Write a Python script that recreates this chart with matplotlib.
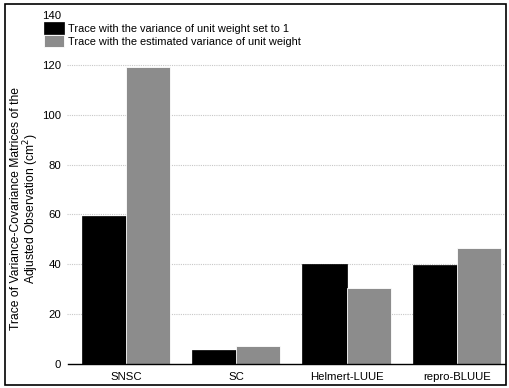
import numpy as np
import matplotlib.pyplot as plt
import matplotlib.transforms as mtransforms
from matplotlib.patches import Rectangle

plt.rcParams['font.family'] = ['Liberation Sans', 'DejaVu Sans']

methods = ["SNSC", "SC", "Helmert-LUUE", "repro-BLUUE"]
trace_unit = [59.2, 5.6, 40.1, 39.6]
trace_est = [119.3, 7.2, 30.3, 46.7]
legend_labels = ["Trace with the variance of unit weight set to 1",
                 "Trace with the estimated variance of unit weight"]
yticks = [0, 20, 40, 60, 80, 100, 120, 140]

fig = plt.figure(figsize=(5.09, 3.88), dpi=100)
ax = fig.add_axes([0.157, 0.062, 0.835, 0.899])

x = np.arange(len(methods))
w = 0.40
ax.bar(x - w / 2, trace_unit, w, color="black", edgecolor="black", linewidth=0.5,
       label=legend_labels[0], zorder=3)
ax.bar(x + w / 2, trace_est, w, color="#8c8c8c", edgecolor="white", linewidth=0.6,
       label=legend_labels[1], zorder=3)

ax.set_xlim(-0.417, 3.435)
ax.set_ylim(0, 140)
ax.set_xticks(x)
ax.set_xticklabels(methods, fontsize=8.2)
ax.set_yticks(yticks)
ax.set_yticklabels([str(t) for t in yticks], fontsize=8.2)
ax.tick_params(axis="y", length=0, pad=13.5)
ax.tick_params(axis="x", length=0, pad=6)

for s in ["top", "right", "left", "bottom"]:
    ax.spines[s].set_visible(False)

# dotted grid lines that run a little past the left edge
trans = mtransforms.blended_transform_factory(ax.transAxes, ax.transData)
for t in yticks[1:-1]:
    ax.plot([-0.03, 1.0], [t, t], transform=trans, color="#c8c8c8",
            linestyle=(0, (1, 1)), linewidth=0.8, clip_on=False, zorder=1)
ax.plot([-0.028, 1.0], [0, 0], transform=trans, color="black",
        linewidth=1.0, clip_on=False, zorder=4)

fig.text(25.5 / 509, 1 - 209 / 388,
         "Trace of Variance-Covariance Matrices of the\nAdjusted Observation (cm$^2$)",
         rotation=90, ha="center", va="center", multialignment="center",
         fontsize=8.7, linespacing=1.0)

leg = ax.legend(loc="upper left", bbox_to_anchor=(-0.084, 0.98), frameon=False,
                fontsize=7.9, handlelength=1.8, handleheight=1.3, handletextpad=0.36,
                labelspacing=0.12, borderaxespad=0, borderpad=0)

# border round the whole figure
fig.patches.append(Rectangle((0.009, 0.008), 0.985, 0.982, transform=fig.transFigure,
                             fill=False, edgecolor="black", linewidth=1.2))

fig.savefig("out.png", dpi=100)
